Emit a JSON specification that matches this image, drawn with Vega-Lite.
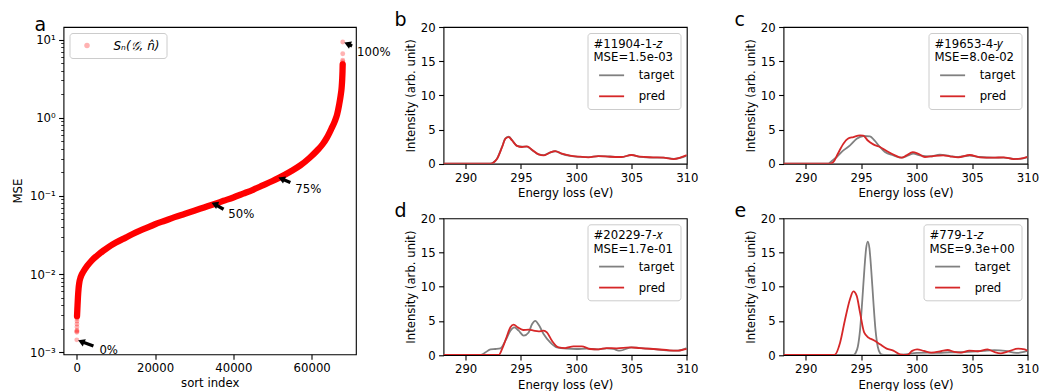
{
  "$schema": "https://vega.github.io/schema/vega-lite/v6.json",
  "padding": {"left": 11.5, "top": 10, "right": 0, "bottom": 0},
  "background": "white",
  "config": {
    "font": "DejaVu Sans",
    "view": {"stroke": "black", "strokeWidth": 1.1},
    "axis": {"domain": false, "grid": false, "tickColor": "black", "tickSize": 4.9, "tickWidth": 1.1, "labelColor": "black", "labelFont": "DejaVu Sans", "labelFontSize": 11.7, "labelPadding": 3.4, "titleFont": "DejaVu Sans", "titleFontSize": 11.7, "titleFontWeight": "normal", "titleColor": "black", "titlePadding": 4, "labelOverlap": false, "labelFlush": false},
    "legend": {"fillColor": "white", "strokeColor": "#cccccc", "cornerRadius": 3, "padding": 6, "offset": 6, "titleFont": "DejaVu Sans", "labelFont": "DejaVu Sans", "titleFontWeight": "normal", "titleFontSize": 11.7, "labelFontSize": 11.7, "titleColor": "black", "labelColor": "black", "titleLineHeight": 13.3, "symbolType": "stroke", "symbolSize": 625, "symbolStrokeWidth": 1.8, "symbolOffset": 4.6, "labelOffset": 13.6, "rowPadding": -8.7, "titlePadding": -2.2, "titleLimit": 300, "labelLimit": 300},
    "title": {"font": "DejaVu Sans", "fontWeight": "normal", "fontSize": 19, "color": "black", "anchor": "start", "frame": "group", "baseline": "alphabetic", "offset": 0}
  },
  "datasets": {
    "mse": [
      {"i": 0, "m": 0.00144, "g": "dot"},
      {"i": 15, "m": 0.0018, "g": "dot"},
      {"i": 25, "m": 0.00185, "g": "dot"},
      {"i": 35, "m": 0.0019, "g": "dot"},
      {"i": 42, "m": 0.0021, "g": "dot"},
      {"i": 48, "m": 0.0023, "g": "dot"},
      {"i": 53, "m": 0.0025, "g": "dot"},
      {"i": 57, "m": 0.0027, "g": "dot"},
      {"i": 60, "m": 0.0029, "g": "band"},
      {"i": 150, "m": 0.0036, "g": "band"},
      {"i": 300, "m": 0.0051, "g": "band"},
      {"i": 450, "m": 0.0065, "g": "band"},
      {"i": 650, "m": 0.0078, "g": "band"},
      {"i": 1000, "m": 0.00917, "g": "band"},
      {"i": 1700, "m": 0.01076, "g": "band"},
      {"i": 2700, "m": 0.01279, "g": "band"},
      {"i": 3800, "m": 0.01489, "g": "band"},
      {"i": 5200, "m": 0.01722, "g": "band"},
      {"i": 6800, "m": 0.01995, "g": "band"},
      {"i": 8000, "m": 0.02198, "g": "band"},
      {"i": 10000, "m": 0.02529, "g": "band"},
      {"i": 12500, "m": 0.0293, "g": "band"},
      {"i": 15000, "m": 0.0339, "g": "band"},
      {"i": 17500, "m": 0.0384, "g": "band"},
      {"i": 20000, "m": 0.04345, "g": "band"},
      {"i": 22500, "m": 0.0482, "g": "band"},
      {"i": 25000, "m": 0.0535, "g": "band"},
      {"i": 27500, "m": 0.0588, "g": "band"},
      {"i": 30000, "m": 0.0646, "g": "band"},
      {"i": 32500, "m": 0.0711, "g": "band"},
      {"i": 35000, "m": 0.0782, "g": "band"},
      {"i": 37500, "m": 0.0865, "g": "band"},
      {"i": 40000, "m": 0.0956, "g": "band"},
      {"i": 42500, "m": 0.1069, "g": "band"},
      {"i": 45000, "m": 0.1197, "g": "band"},
      {"i": 47500, "m": 0.1361, "g": "band"},
      {"i": 50000, "m": 0.155, "g": "band"},
      {"i": 51500, "m": 0.169, "g": "band"},
      {"i": 54500, "m": 0.204, "g": "band"},
      {"i": 57100, "m": 0.2455, "g": "band"},
      {"i": 59500, "m": 0.308, "g": "band"},
      {"i": 61400, "m": 0.381, "g": "band"},
      {"i": 62800, "m": 0.458, "g": "band"},
      {"i": 63900, "m": 0.557, "g": "band"},
      {"i": 65000, "m": 0.718, "g": "band"},
      {"i": 65900, "m": 0.902, "g": "band"},
      {"i": 66500, "m": 1.1, "g": "band"},
      {"i": 67000, "m": 1.45, "g": "band"},
      {"i": 67400, "m": 1.91, "g": "band"},
      {"i": 67650, "m": 2.41, "g": "band"},
      {"i": 67800, "m": 3.11, "g": "band"},
      {"i": 67880, "m": 3.92, "g": "band"},
      {"i": 67925, "m": 4.82, "g": "band"},
      {"i": 67928, "m": 5.0, "g": "dot"},
      {"i": 67931, "m": 5.2, "g": "dot"},
      {"i": 67934, "m": 5.45, "g": "dot"},
      {"i": 67938, "m": 6.6, "g": "dot"},
      {"i": 67942, "m": 9.3, "g": "dot"}
    ],
    "arrows": [
      {"i": 1125, "m": 0.00137, "i2": 4246, "m2": 0.0012},
      {"i": 35200, "m": 0.0785, "i2": 37490, "m2": 0.0675},
      {"i": 52280, "m": 0.166, "i2": 54550, "m2": 0.148},
      {"i": 69130, "m": 8.83, "i2": 70330, "m2": 8.3}
    ],
    "labels": [
      {"i": 5780, "m": 0.001064, "label": "0%"},
      {"i": 38700, "m": 0.0586, "label": "50%"},
      {"i": 55830, "m": 0.1225, "label": "75%"},
      {"i": 71610, "m": 6.85, "label": "100%"}
    ],
    "spectra": [
      {"p": "b", "s": "target", "e": 288, "v": 0}, {"p": "b", "s": "target", "e": 292.2, "v": 0}, {"p": "b", "s": "target", "e": 292.5, "v": 0.18}, {"p": "b", "s": "target", "e": 292.85, "v": 0.78}, {"p": "b", "s": "target", "e": 293.3, "v": 2.5}, {"p": "b", "s": "target", "e": 293.6, "v": 3.7}, {"p": "b", "s": "target", "e": 293.9, "v": 3.95}, {"p": "b", "s": "target", "e": 294.2, "v": 3.45}, {"p": "b", "s": "target", "e": 294.65, "v": 2.62}, {"p": "b", "s": "target", "e": 295.1, "v": 2.5}, {"p": "b", "s": "target", "e": 295.55, "v": 2.5}, {"p": "b", "s": "target", "e": 296.0, "v": 2.0}, {"p": "b", "s": "target", "e": 296.6, "v": 1.35}, {"p": "b", "s": "target", "e": 297.05, "v": 1.25}, {"p": "b", "s": "target", "e": 297.6, "v": 1.62}, {"p": "b", "s": "target", "e": 298.1, "v": 1.82}, {"p": "b", "s": "target", "e": 298.7, "v": 1.45}, {"p": "b", "s": "target", "e": 299.45, "v": 1.15}, {"p": "b", "s": "target", "e": 300.35, "v": 1.0}, {"p": "b", "s": "target", "e": 301.1, "v": 0.95}, {"p": "b", "s": "target", "e": 302.0, "v": 1.1}, {"p": "b", "s": "target", "e": 303.05, "v": 1.05}, {"p": "b", "s": "target", "e": 304.1, "v": 0.95}, {"p": "b", "s": "target", "e": 305.0, "v": 1.3}, {"p": "b", "s": "target", "e": 305.75, "v": 1.0}, {"p": "b", "s": "target", "e": 306.95, "v": 0.9}, {"p": "b", "s": "target", "e": 307.9, "v": 0.9}, {"p": "b", "s": "target", "e": 308.8, "v": 0.7}, {"p": "b", "s": "target", "e": 309.4, "v": 0.85}, {"p": "b", "s": "target", "e": 310, "v": 1.2},
      {"p": "b", "s": "pred", "e": 288, "v": 0}, {"p": "b", "s": "pred", "e": 292.2, "v": 0}, {"p": "b", "s": "pred", "e": 292.5, "v": 0.15}, {"p": "b", "s": "pred", "e": 292.85, "v": 0.73}, {"p": "b", "s": "pred", "e": 293.3, "v": 2.44}, {"p": "b", "s": "pred", "e": 293.6, "v": 3.66}, {"p": "b", "s": "pred", "e": 293.9, "v": 3.9}, {"p": "b", "s": "pred", "e": 294.2, "v": 3.4}, {"p": "b", "s": "pred", "e": 294.65, "v": 2.6}, {"p": "b", "s": "pred", "e": 295.1, "v": 2.44}, {"p": "b", "s": "pred", "e": 295.55, "v": 2.54}, {"p": "b", "s": "pred", "e": 296.0, "v": 2.05}, {"p": "b", "s": "pred", "e": 296.6, "v": 1.37}, {"p": "b", "s": "pred", "e": 297.05, "v": 1.22}, {"p": "b", "s": "pred", "e": 297.6, "v": 1.6}, {"p": "b", "s": "pred", "e": 298.1, "v": 1.85}, {"p": "b", "s": "pred", "e": 298.7, "v": 1.46}, {"p": "b", "s": "pred", "e": 299.45, "v": 1.17}, {"p": "b", "s": "pred", "e": 300.35, "v": 1.02}, {"p": "b", "s": "pred", "e": 301.1, "v": 0.93}, {"p": "b", "s": "pred", "e": 302.0, "v": 1.12}, {"p": "b", "s": "pred", "e": 303.05, "v": 1.02}, {"p": "b", "s": "pred", "e": 304.1, "v": 0.98}, {"p": "b", "s": "pred", "e": 305.0, "v": 1.27}, {"p": "b", "s": "pred", "e": 305.75, "v": 1.02}, {"p": "b", "s": "pred", "e": 306.95, "v": 0.93}, {"p": "b", "s": "pred", "e": 307.9, "v": 0.88}, {"p": "b", "s": "pred", "e": 308.8, "v": 0.68}, {"p": "b", "s": "pred", "e": 309.4, "v": 0.88}, {"p": "b", "s": "pred", "e": 310, "v": 1.25},
      {"p": "c", "s": "target", "e": 288, "v": 0}, {"p": "c", "s": "target", "e": 292.0, "v": 0}, {"p": "c", "s": "target", "e": 292.3, "v": 0.34}, {"p": "c", "s": "target", "e": 292.8, "v": 0.98}, {"p": "c", "s": "target", "e": 293.4, "v": 1.95}, {"p": "c", "s": "target", "e": 294.0, "v": 2.68}, {"p": "c", "s": "target", "e": 294.6, "v": 3.66}, {"p": "c", "s": "target", "e": 295.2, "v": 4.05}, {"p": "c", "s": "target", "e": 295.8, "v": 4.0}, {"p": "c", "s": "target", "e": 296.2, "v": 3.4}, {"p": "c", "s": "target", "e": 296.7, "v": 2.44}, {"p": "c", "s": "target", "e": 297.15, "v": 1.7}, {"p": "c", "s": "target", "e": 297.9, "v": 1.22}, {"p": "c", "s": "target", "e": 298.65, "v": 0.88}, {"p": "c", "s": "target", "e": 299.25, "v": 1.22}, {"p": "c", "s": "target", "e": 299.7, "v": 1.46}, {"p": "c", "s": "target", "e": 300.3, "v": 1.22}, {"p": "c", "s": "target", "e": 301.2, "v": 1.07}, {"p": "c", "s": "target", "e": 302.1, "v": 1.32}, {"p": "c", "s": "target", "e": 303.0, "v": 1.12}, {"p": "c", "s": "target", "e": 303.75, "v": 0.98}, {"p": "c", "s": "target", "e": 304.8, "v": 1.2}, {"p": "c", "s": "target", "e": 305.7, "v": 0.98}, {"p": "c", "s": "target", "e": 306.9, "v": 0.9}, {"p": "c", "s": "target", "e": 307.85, "v": 0.9}, {"p": "c", "s": "target", "e": 308.75, "v": 0.7}, {"p": "c", "s": "target", "e": 309.35, "v": 0.7}, {"p": "c", "s": "target", "e": 310, "v": 0.95},
      {"p": "c", "s": "pred", "e": 288, "v": 0}, {"p": "c", "s": "pred", "e": 292.2, "v": 0}, {"p": "c", "s": "pred", "e": 292.5, "v": 0.25}, {"p": "c", "s": "pred", "e": 292.9, "v": 1.46}, {"p": "c", "s": "pred", "e": 293.4, "v": 2.93}, {"p": "c", "s": "pred", "e": 293.8, "v": 3.66}, {"p": "c", "s": "pred", "e": 294.3, "v": 3.9}, {"p": "c", "s": "pred", "e": 294.9, "v": 4.15}, {"p": "c", "s": "pred", "e": 295.2, "v": 4.1}, {"p": "c", "s": "pred", "e": 295.6, "v": 3.4}, {"p": "c", "s": "pred", "e": 296.1, "v": 2.83}, {"p": "c", "s": "pred", "e": 296.7, "v": 2.44}, {"p": "c", "s": "pred", "e": 297.3, "v": 1.85}, {"p": "c", "s": "pred", "e": 298.05, "v": 1.22}, {"p": "c", "s": "pred", "e": 298.65, "v": 0.88}, {"p": "c", "s": "pred", "e": 299.1, "v": 1.22}, {"p": "c", "s": "pred", "e": 299.65, "v": 1.7}, {"p": "c", "s": "pred", "e": 300.15, "v": 1.46}, {"p": "c", "s": "pred", "e": 300.75, "v": 0.98}, {"p": "c", "s": "pred", "e": 301.5, "v": 1.12}, {"p": "c", "s": "pred", "e": 302.4, "v": 1.22}, {"p": "c", "s": "pred", "e": 303.0, "v": 1.07}, {"p": "c", "s": "pred", "e": 303.75, "v": 0.93}, {"p": "c", "s": "pred", "e": 304.8, "v": 1.27}, {"p": "c", "s": "pred", "e": 305.7, "v": 0.93}, {"p": "c", "s": "pred", "e": 306.9, "v": 0.88}, {"p": "c", "s": "pred", "e": 307.85, "v": 0.93}, {"p": "c", "s": "pred", "e": 308.75, "v": 0.68}, {"p": "c", "s": "pred", "e": 309.35, "v": 0.73}, {"p": "c", "s": "pred", "e": 310, "v": 1.0},
      {"p": "d", "s": "target", "e": 288, "v": 0}, {"p": "d", "s": "target", "e": 291.35, "v": 0}, {"p": "d", "s": "target", "e": 291.8, "v": 0.39}, {"p": "d", "s": "target", "e": 292.25, "v": 0.83}, {"p": "d", "s": "target", "e": 292.7, "v": 0.88}, {"p": "d", "s": "target", "e": 293.15, "v": 0.98}, {"p": "d", "s": "target", "e": 293.6, "v": 2.1}, {"p": "d", "s": "target", "e": 294.05, "v": 3.56}, {"p": "d", "s": "target", "e": 294.4, "v": 4.05}, {"p": "d", "s": "target", "e": 294.8, "v": 3.56}, {"p": "d", "s": "target", "e": 295.25, "v": 2.83}, {"p": "d", "s": "target", "e": 295.7, "v": 3.3}, {"p": "d", "s": "target", "e": 296.0, "v": 4.5}, {"p": "d", "s": "target", "e": 296.3, "v": 5.0}, {"p": "d", "s": "target", "e": 296.65, "v": 4.3}, {"p": "d", "s": "target", "e": 297.05, "v": 3.07}, {"p": "d", "s": "target", "e": 297.65, "v": 1.85}, {"p": "d", "s": "target", "e": 298.25, "v": 1.12}, {"p": "d", "s": "target", "e": 299.15, "v": 0.93}, {"p": "d", "s": "target", "e": 300.05, "v": 0.88}, {"p": "d", "s": "target", "e": 300.95, "v": 0.93}, {"p": "d", "s": "target", "e": 301.85, "v": 0.83}, {"p": "d", "s": "target", "e": 302.75, "v": 0.98}, {"p": "d", "s": "target", "e": 303.35, "v": 0.88}, {"p": "d", "s": "target", "e": 303.95, "v": 0.63}, {"p": "d", "s": "target", "e": 305.0, "v": 1.12}, {"p": "d", "s": "target", "e": 306.05, "v": 0.98}, {"p": "d", "s": "target", "e": 307.25, "v": 0.83}, {"p": "d", "s": "target", "e": 308.45, "v": 0.63}, {"p": "d", "s": "target", "e": 309.2, "v": 0.63}, {"p": "d", "s": "target", "e": 310, "v": 1.0},
      {"p": "d", "s": "pred", "e": 288, "v": 0}, {"p": "d", "s": "pred", "e": 293.0, "v": 0}, {"p": "d", "s": "pred", "e": 293.3, "v": 0.88}, {"p": "d", "s": "pred", "e": 293.7, "v": 2.6}, {"p": "d", "s": "pred", "e": 294.05, "v": 4.05}, {"p": "d", "s": "pred", "e": 294.35, "v": 4.44}, {"p": "d", "s": "pred", "e": 294.7, "v": 4.05}, {"p": "d", "s": "pred", "e": 295.2, "v": 3.66}, {"p": "d", "s": "pred", "e": 295.7, "v": 3.7}, {"p": "d", "s": "pred", "e": 296.15, "v": 3.56}, {"p": "d", "s": "pred", "e": 296.6, "v": 3.46}, {"p": "d", "s": "pred", "e": 297.05, "v": 3.56}, {"p": "d", "s": "pred", "e": 297.35, "v": 3.3}, {"p": "d", "s": "pred", "e": 297.8, "v": 2.1}, {"p": "d", "s": "pred", "e": 298.4, "v": 1.12}, {"p": "d", "s": "pred", "e": 299.0, "v": 1.02}, {"p": "d", "s": "pred", "e": 299.75, "v": 1.27}, {"p": "d", "s": "pred", "e": 300.5, "v": 1.27}, {"p": "d", "s": "pred", "e": 301.25, "v": 0.88}, {"p": "d", "s": "pred", "e": 302.0, "v": 0.83}, {"p": "d", "s": "pred", "e": 302.75, "v": 1.02}, {"p": "d", "s": "pred", "e": 303.65, "v": 0.98}, {"p": "d", "s": "pred", "e": 304.85, "v": 1.12}, {"p": "d", "s": "pred", "e": 305.75, "v": 1.02}, {"p": "d", "s": "pred", "e": 306.95, "v": 0.88}, {"p": "d", "s": "pred", "e": 308.15, "v": 0.73}, {"p": "d", "s": "pred", "e": 309.05, "v": 0.63}, {"p": "d", "s": "pred", "e": 310, "v": 0.9},
      {"p": "e", "s": "target", "e": 288, "v": 0}, {"p": "e", "s": "target", "e": 294.3, "v": 0}, {"p": "e", "s": "target", "e": 294.5, "v": 0.3}, {"p": "e", "s": "target", "e": 294.7, "v": 1.2}, {"p": "e", "s": "target", "e": 294.9, "v": 3.6}, {"p": "e", "s": "target", "e": 295.1, "v": 7.9}, {"p": "e", "s": "target", "e": 295.3, "v": 12.7}, {"p": "e", "s": "target", "e": 295.45, "v": 15.6}, {"p": "e", "s": "target", "e": 295.6, "v": 16.6}, {"p": "e", "s": "target", "e": 295.75, "v": 15.6}, {"p": "e", "s": "target", "e": 295.9, "v": 12.7}, {"p": "e", "s": "target", "e": 296.1, "v": 7.9}, {"p": "e", "s": "target", "e": 296.3, "v": 3.6}, {"p": "e", "s": "target", "e": 296.5, "v": 1.2}, {"p": "e", "s": "target", "e": 296.7, "v": 0.3}, {"p": "e", "s": "target", "e": 296.9, "v": 0.05}, {"p": "e", "s": "target", "e": 297.2, "v": 0}, {"p": "e", "s": "target", "e": 298, "v": 0}, {"p": "e", "s": "target", "e": 299, "v": 0.1}, {"p": "e", "s": "target", "e": 300, "v": 0.3}, {"p": "e", "s": "target", "e": 301, "v": 0.35}, {"p": "e", "s": "target", "e": 302, "v": 0.3}, {"p": "e", "s": "target", "e": 303, "v": 0.4}, {"p": "e", "s": "target", "e": 304, "v": 0.4}, {"p": "e", "s": "target", "e": 305, "v": 0.5}, {"p": "e", "s": "target", "e": 306, "v": 0.6}, {"p": "e", "s": "target", "e": 307, "v": 0.7}, {"p": "e", "s": "target", "e": 308, "v": 0.6}, {"p": "e", "s": "target", "e": 309, "v": 0.3}, {"p": "e", "s": "target", "e": 310, "v": 0.6},
      {"p": "e", "s": "pred", "e": 288, "v": 0}, {"p": "e", "s": "pred", "e": 292.6, "v": 0}, {"p": "e", "s": "pred", "e": 293.1, "v": 1.8}, {"p": "e", "s": "pred", "e": 293.55, "v": 5.2}, {"p": "e", "s": "pred", "e": 294.0, "v": 8.2}, {"p": "e", "s": "pred", "e": 294.3, "v": 9.3}, {"p": "e", "s": "pred", "e": 294.6, "v": 8.65}, {"p": "e", "s": "pred", "e": 294.9, "v": 6.2}, {"p": "e", "s": "pred", "e": 295.27, "v": 3.3}, {"p": "e", "s": "pred", "e": 295.67, "v": 2.54}, {"p": "e", "s": "pred", "e": 296.1, "v": 2.2}, {"p": "e", "s": "pred", "e": 296.7, "v": 1.56}, {"p": "e", "s": "pred", "e": 297.3, "v": 0.93}, {"p": "e", "s": "pred", "e": 297.9, "v": 0.64}, {"p": "e", "s": "pred", "e": 298.5, "v": 0.1}, {"p": "e", "s": "pred", "e": 299.15, "v": 0}, {"p": "e", "s": "pred", "e": 299.6, "v": 0.6}, {"p": "e", "s": "pred", "e": 300.05, "v": 0.83}, {"p": "e", "s": "pred", "e": 300.65, "v": 0.6}, {"p": "e", "s": "pred", "e": 301.3, "v": 0.35}, {"p": "e", "s": "pred", "e": 302.2, "v": 0.55}, {"p": "e", "s": "pred", "e": 302.8, "v": 0.73}, {"p": "e", "s": "pred", "e": 303.4, "v": 0.45}, {"p": "e", "s": "pred", "e": 304.0, "v": 0.35}, {"p": "e", "s": "pred", "e": 304.75, "v": 0.64}, {"p": "e", "s": "pred", "e": 305.5, "v": 0.55}, {"p": "e", "s": "pred", "e": 306.4, "v": 0.83}, {"p": "e", "s": "pred", "e": 307.0, "v": 0.45}, {"p": "e", "s": "pred", "e": 307.6, "v": 0.25}, {"p": "e", "s": "pred", "e": 308.4, "v": 0.6}, {"p": "e", "s": "pred", "e": 309.15, "v": 0.93}, {"p": "e", "s": "pred", "e": 309.75, "v": 0.83}, {"p": "e", "s": "pred", "e": 310, "v": 0.6}
    ]
  },
  "bounds": "flush",
  "spacing": 87,
  "resolve": {"scale": {"color": "independent"}},
  "hconcat": [
    {
      "width": 292.4,
      "height": 327.3,
      "title": {"text": "a", "dx": -29, "dy": 12},
      "encoding": {
        "x": {"field": "i", "type": "quantitative", "title": "sort index", "scale": {"domain": [-3395, 71300], "nice": false, "zero": false}, "axis": {"values": [0, 20000, 40000, 60000], "format": "d", "titlePadding": 3}},
        "y": {"field": "m", "type": "quantitative", "title": "MSE", "scale": {"type": "log", "domain": [0.00094, 14.5], "nice": false}, "axis": {"values": [0.001, 0.002, 0.003, 0.004, 0.005, 0.006, 0.007, 0.008, 0.009, 0.01, 0.02, 0.03, 0.04, 0.05, 0.06, 0.07, 0.08, 0.09, 0.1, 0.2, 0.3, 0.4, 0.5, 0.6, 0.7, 0.8, 0.9, 1, 2, 3, 4, 5, 6, 7, 8, 9, 10], "labelExpr": "datum.value == 10 ? '10¹' : datum.value == 1 ? '10⁰' : datum.value == 0.1 ? '10⁻¹' : datum.value == 0.01 ? '10⁻²' : datum.value == 0.001 ? '10⁻³' : ''", "tickSize": {"condition": {"test": "indexof([0.001, 0.01, 0.1, 1, 10], datum.value) >= 0", "value": 4.9}, "value": 2.8}, "tickWidth": {"condition": {"test": "indexof([0.001, 0.01, 0.1, 1, 10], datum.value) >= 0", "value": 1.1}, "value": 0.8}, "titlePadding": 6}}
      },
      "layer": [
        {"data": {"name": "mse"}, "transform": [{"filter": "datum.g == 'band'"}], "mark": {"type": "line", "color": "#ff0000", "strokeWidth": 6.3, "strokeCap": "round", "strokeJoin": "round", "interpolate": "monotone"}},
        {"data": {"name": "mse"}, "mark": {"type": "point", "filled": true, "size": 24, "opacity": 0.3, "strokeWidth": 0},
          "encoding": {"color": {"datum": "Sₙ(𝒢, n̂)", "scale": {"range": ["#ff0000"]}, "legend": {"title": null, "orient": "top-left", "symbolType": "circle", "symbolSize": 30, "symbolFillColor": "#ff0000", "symbolStrokeWidth": 0, "symbolOpacity": 0.3, "labelFontSize": 12, "labelFontStyle": "italic", "padding": 6.5, "symbolOffset": 5, "labelOffset": 20.5, "rowPadding": 0, "titlePadding": 0}}}},
        {"data": {"name": "arrows"}, "mark": {"type": "rule", "color": "black", "strokeWidth": 3.3},
          "encoding": {"x2": {"field": "i2"}, "y2": {"field": "m2"}}},
        {"data": {"name": "arrows"}, "mark": {"type": "point", "shape": "triangle-up", "filled": true, "color": "black", "size": 60, "angle": 293, "opacity": 1}},
        {"data": {"name": "labels"}, "mark": {"type": "text", "align": "left", "baseline": "middle", "fontSize": 11.7, "color": "black"},
          "encoding": {"text": {"field": "label"}}}
      ]
    },
    {
      "hconcat": [
        {
          "vconcat": [
            {
              "width": 243.3, "height": 136.7,
              "title": {"text": "b", "dx": -49, "dy": 12},
              "data": {"name": "spectra"},
              "transform": [{"filter": "datum.p == 'b'"}],
              "encoding": {
                "x": {"field": "e", "type": "quantitative", "title": "Energy loss (eV)", "scale": {"domain": [288, 310], "nice": false, "zero": false}, "axis": {"values": [290, 295, 300, 305, 310]}},
                "y": {"field": "v", "type": "quantitative", "title": "Intensity (arb. unit)", "scale": {"domain": [0, 20], "nice": false}, "axis": {"values": [0, 5, 10, 15, 20]}},
                "color": {"field": "s", "type": "nominal", "scale": {"domain": ["target", "pred"], "range": ["#808080", "#d62728"]}, "legend": {"title": ["#11904-1-𝑧", "MSE=1.5e-03"], "orient": "top-right"}}
              },
              "layer": [
                {"transform": [{"filter": "datum.s == 'target'"}], "mark": {"type": "line", "strokeWidth": 1.8, "interpolate": "monotone", "clip": true}},
                {"transform": [{"filter": "datum.s == 'pred'"}], "mark": {"type": "line", "strokeWidth": 1.8, "interpolate": "monotone", "clip": true}}
              ]
            },
            {
              "width": 243.3, "height": 136.7,
              "title": {"text": "d", "dx": -49, "dy": 12},
              "data": {"name": "spectra"},
              "transform": [{"filter": "datum.p == 'd'"}],
              "encoding": {
                "x": {"field": "e", "type": "quantitative", "title": "Energy loss (eV)", "scale": {"domain": [288, 310], "nice": false, "zero": false}, "axis": {"values": [290, 295, 300, 305, 310]}},
                "y": {"field": "v", "type": "quantitative", "title": "Intensity (arb. unit)", "scale": {"domain": [0, 20], "nice": false}, "axis": {"values": [0, 5, 10, 15, 20]}},
                "color": {"field": "s", "type": "nominal", "scale": {"domain": ["target", "pred"], "range": ["#808080", "#d62728"]}, "legend": {"title": ["#20229-7-𝑥", "MSE=1.7e-01"], "orient": "top-right"}}
              },
              "layer": [
                {"transform": [{"filter": "datum.s == 'target'"}], "mark": {"type": "line", "strokeWidth": 1.8, "interpolate": "monotone", "clip": true}},
                {"transform": [{"filter": "datum.s == 'pred'"}], "mark": {"type": "line", "strokeWidth": 1.8, "interpolate": "monotone", "clip": true}}
              ]
            }
          ],
          "spacing": 54.3,
          "bounds": "flush",
          "resolve": {"scale": {"color": "independent"}}
        },
        {
          "vconcat": [
            {
              "width": 244, "height": 136.7,
              "title": {"text": "c", "dx": -49, "dy": 12},
              "data": {"name": "spectra"},
              "transform": [{"filter": "datum.p == 'c'"}],
              "encoding": {
                "x": {"field": "e", "type": "quantitative", "title": "Energy loss (eV)", "scale": {"domain": [288, 310], "nice": false, "zero": false}, "axis": {"values": [290, 295, 300, 305, 310]}},
                "y": {"field": "v", "type": "quantitative", "title": "Intensity (arb. unit)", "scale": {"domain": [0, 20], "nice": false}, "axis": {"values": [0, 5, 10, 15, 20]}},
                "color": {"field": "s", "type": "nominal", "scale": {"domain": ["target", "pred"], "range": ["#808080", "#d62728"]}, "legend": {"title": ["#19653-4-𝑦", "MSE=8.0e-02"], "orient": "top-right"}}
              },
              "layer": [
                {"transform": [{"filter": "datum.s == 'target'"}], "mark": {"type": "line", "strokeWidth": 1.8, "interpolate": "monotone", "clip": true}},
                {"transform": [{"filter": "datum.s == 'pred'"}], "mark": {"type": "line", "strokeWidth": 1.8, "interpolate": "monotone", "clip": true}}
              ]
            },
            {
              "width": 244, "height": 136.7,
              "title": {"text": "e", "dx": -49, "dy": 12},
              "data": {"name": "spectra"},
              "transform": [{"filter": "datum.p == 'e'"}],
              "encoding": {
                "x": {"field": "e", "type": "quantitative", "title": "Energy loss (eV)", "scale": {"domain": [288, 310], "nice": false, "zero": false}, "axis": {"values": [290, 295, 300, 305, 310]}},
                "y": {"field": "v", "type": "quantitative", "title": "Intensity (arb. unit)", "scale": {"domain": [0, 20], "nice": false}, "axis": {"values": [0, 5, 10, 15, 20]}},
                "color": {"field": "s", "type": "nominal", "scale": {"domain": ["target", "pred"], "range": ["#808080", "#d62728"]}, "legend": {"title": ["#779-1-𝑧", "MSE=9.3e+00"], "orient": "top-right"}}
              },
              "layer": [
                {"transform": [{"filter": "datum.s == 'target'"}], "mark": {"type": "line", "strokeWidth": 1.8, "interpolate": "monotone", "clip": true}},
                {"transform": [{"filter": "datum.s == 'pred'"}], "mark": {"type": "line", "strokeWidth": 1.8, "interpolate": "monotone", "clip": true}}
              ]
            }
          ],
          "spacing": 54.3,
          "bounds": "flush",
          "resolve": {"scale": {"color": "independent"}}
        }
      ],
      "spacing": 340,
      "bounds": "flush",
      "resolve": {"scale": {"color": "independent"}}
    }
  ]
}
